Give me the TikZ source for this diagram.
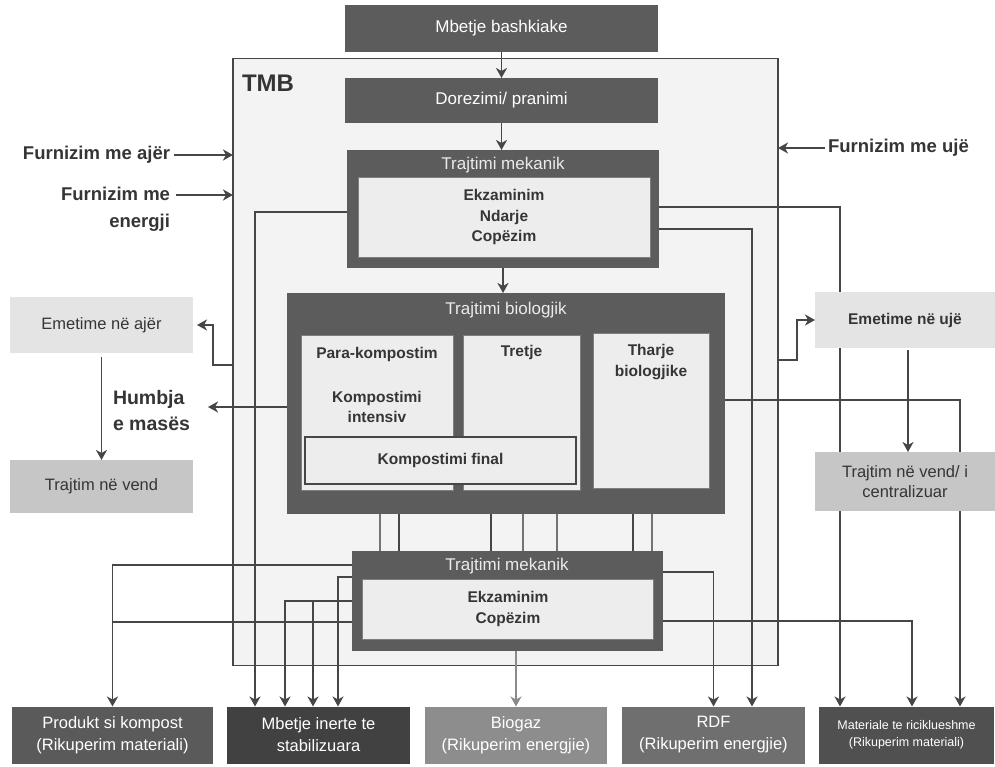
\documentclass[tikz,border=0pt]{standalone}
\usepackage{fontspec}
\setmainfont{Liberation Sans}
\usetikzlibrary{arrows.meta}
\pgfdeclarelayer{frame}
\pgfdeclarelayer{lines}
\pgfsetlayers{frame,lines,main}
\definecolor{dkbox}{HTML}{5C5C5C}
\definecolor{lnc}{HTML}{464646}
\definecolor{frm}{HTML}{F3F3F3}
\definecolor{inb}{HTML}{EDEDED}
\definecolor{lgb}{HTML}{E4E4E4}
\definecolor{mgb}{HTML}{C6C6C6}
\definecolor{txd}{HTML}{353535}
\definecolor{pkc}{HTML}{5A5A5A}
\definecolor{mic}{HTML}{414141}
\definecolor{bgc}{HTML}{8D8D8D}
\definecolor{rdfc}{HTML}{6F6F6F}
\definecolor{mrc}{HTML}{505050}
\definecolor{bgl}{HTML}{8A8A8A}
\begin{document}
\begin{tikzpicture}[x=1pt,y=-1pt,
  every node/.style={font=\fontsize{17}{21}\selectfont},
  box/.style={inner sep=0pt, outer sep=0pt, align=center},
  dbox/.style={box, fill=dkbox, text=white},
  lbox/.style={box, fill=inb, draw=lnc!70, line width=0.6pt, text=txd, font=\bfseries\fontsize{15.5}{20.5}\selectfont},
  wtext/.style={box, text=white!92!black},
  btext/.style={box, text=txd, font=\bfseries\fontsize{15.5}{20.5}\selectfont},
  stext/.style={box, text=txd, font=\bfseries\fontsize{18.5}{27}\selectfont},
  sidebox/.style={box, text=txd, font=\fontsize{16.5}{21}\selectfont},
  botbox/.style={box, text=white, minimum height=57pt, font=\fontsize{16.5}{22}\selectfont},
  conn/.style={draw=lnc, line width=1.8pt},
  arr/.style={conn, -{Stealth[length=10pt,width=11pt,inset=3pt]}},
  arrl/.style={draw=bgl, line width=1.5pt, -{Stealth[length=10pt,width=11pt,inset=3pt]}},
  bthick/.style={draw=lnc, line width=2pt},
  bthin/.style={draw=lnc!75, line width=1.2pt},
]
\useasboundingbox (0,0) rectangle (995,767);
\begin{pgfonlayer}{frame}
\fill[white] (0,0) rectangle (995,767);
\node[box, draw=lnc, line width=1.3pt, fill=frm, minimum width=545pt, minimum height=607pt] (tmb) at (505.5,362) {};
\end{pgfonlayer}
\node[box, anchor=west, text=txd, font=\bfseries\fontsize{24}{26}\selectfont] (tmbl) at (242,83) {TMB};

% top chain
\node[dbox, minimum width=313pt, minimum height=47pt] (mb) at (501.5,28.5) {Mbetje bashkiake};
\node[dbox, minimum width=313pt, minimum height=45pt] (dor) at (501.5,100.5) {Dorezimi/ pranimi};

% mechanical treatment 1
\node[dbox, minimum width=312pt, minimum height=118pt] (m1) at (503,209) {};
\node[wtext] (m1t) at (503,165) {Trajtimi mekanik};
\node[lbox, minimum width=292pt, minimum height=80pt] (m1i) at (504,217) {Ekzaminim\\Ndarje\\Copëzim};

% biological treatment
\node[dbox, minimum width=438pt, minimum height=221pt] (bio) at (506,403.5) {};
\node[wtext] (biot) at (506,310) {Trajtimi biologjik};
\node[lbox, minimum width=152pt, minimum height=155pt] (para) at (377,412.5) {};
\node[btext] (parat) at (377,354) {Para-kompostim};
\node[btext] (kit) at (377,407) {Kompostimi\\intensiv};
\node[lbox, minimum width=117pt, minimum height=155pt] (tre) at (521.5,412.5) {};
\node[btext] (tret) at (521.5,352) {Tretje};
\node[lbox, draw=lnc, line width=1.4pt, minimum width=271pt, minimum height=47pt] (fin) at (440.5,460.5) {Kompostimi final};
\node[lbox, minimum width=116pt, minimum height=155pt] (tha) at (651,410.5) {};
\node[btext] (thai) at (651,362) {Tharje\\biologjike};

% mechanical treatment 2
\node[dbox, minimum width=311pt, minimum height=100pt] (m2) at (507,601) {};
\node[wtext] (m2t) at (507,566) {Trajtimi mekanik};
\node[lbox, minimum width=291pt, minimum height=60pt] (m2i) at (508,609) {Ekzaminim\\Copëzim};

% left side
\node[stext, anchor=east] (fa) at (170,155) {Furnizim me ajër};
\node[stext, anchor=east, align=right] (fe) at (170,209) {Furnizim me\\energji};
\coordinate (fein) at (176,195);
\node[sidebox, fill=lgb, minimum width=183pt, minimum height=56pt] (eaj) at (101.5,325) {Emetime në ajër};
\node[sidebox, fill=mgb, minimum width=183pt, minimum height=53pt] (tv) at (101.5,486.5) {Trajtim në vend};
\node[stext, anchor=west, align=left, font=\bfseries\fontsize{19.5}{26}\selectfont] (hm) at (113,411) {Humbja\\e masës};

% right side
\node[stext, anchor=west] (fu) at (828,148) {Furnizim me ujë};
\node[sidebox, fill=lgb, minimum width=180pt, minimum height=56pt, font=\bfseries\fontsize{15.5}{20}\selectfont] (euj) at (905,320) {Emetime në ujë};
\node[sidebox, fill=mgb, minimum width=180pt, minimum height=59pt, font=\fontsize{16.5}{20}\selectfont] (tc) at (905,481.5) {Trajtim në vend/ i\\centralizuar};

% bottom outputs
\node[botbox, fill=pkc, minimum width=201pt] (pk) at (112.5,735) {Produkt si kompost\\(Rikuperim materiali)};
\node[botbox, fill=mic, minimum width=183pt] (mi) at (318.5,735) {Mbetje inerte te\\stabilizuara};
\node[botbox, fill=bgc, minimum width=182pt] (bg) at (516,735) {Biogaz\\(Rikuperim energjie)};
\node[botbox, fill=rdfc, minimum width=183pt] (rdf) at (713.5,735) {RDF\\(Rikuperim energjie)};
\node[botbox, fill=mrc, minimum width=175pt, font=\fontsize{12.5}{17}\selectfont] (mr) at (906.5,735) {Materiale te riciklueshme\\(Rikuperim materiali)};

\begin{pgfonlayer}{lines}
% main chain
\draw[arr] (mb.south) -- (dor.north);
\draw[arr] (dor.south) -- (dor.south |- m1.north);
\draw[arr] (m1.south) -- (m1.south |- bio.north);
% supplies
\draw[arr] ([xshift=4pt]fa.east) -- (fa.east -| tmb.west);
\draw[arr] (fein) -- (fein -| tmb.west);
\draw[arr] ([xshift=-3pt]fu.west) -- (fu.west -| tmb.east);
% emissions
\draw[arr] ([yshift=-3pt]tmb.west) -- ++(-20,0) |- ([xshift=4pt]eaj.east);
\draw[arr] ([yshift=-3.5pt]bio.west) -- ++(-79,0);
\draw[arr] ([yshift=-4pt]eaj.south) -- (tv.north);
\draw[arr] ([yshift=2pt]tmb.east) -- ++(19,0) |- (euj.west);
\draw[arr] ([xshift=3pt,yshift=-2pt]euj.south) -- ([xshift=3pt]tc.north);
% from mechanical treatment 1
\draw[arr] ([yshift=-3pt]m1.west) -| ([xshift=-63.5pt]mi.north);
\draw[arr] ([yshift=2pt]m1.east) -| ([xshift=-66.5pt]mr.north);
\draw[arr] ([yshift=-20pt]m1.east) -| ([xshift=38.5pt]rdf.north);
% from biological treatment
\draw[arr] ([yshift=3.5pt]bio.east) -| ([xshift=53.5pt]mr.north);
\foreach \dx/\st in {-126/bthin,-107/bthick,-15/bthick,17/bthin,51/bthin,127/bthick,146/bthin}{
  \path ([xshift=\dx pt]bio.south) coordinate (bp);
  \draw[\st] (bp) -- (bp |- m2.north);
}
% from mechanical treatment 2
\draw[arr] ([yshift=36pt]m2.west) -| (pk.north);
\coordinate (lw) at ([yshift=-21pt]m2.west);
\draw[conn] (lw) -- (lw -| pk.north);
\draw[arr] ([yshift=24pt]m2.west) -| ([xshift=19.5pt]mi.north);
\draw[arr] ([yshift=0pt]m2.west) -| ([xshift=-33.5pt]mi.north);
\coordinate (mw) at (m2.west);
\coordinate (mt) at ([xshift=-5.5pt]mi.north);
\draw[arr] (mw -| mt) -- (mt);
\draw[arr] ([yshift=29pt]m2.east) -| (rdf.north);
\draw[arr] ([yshift=-20pt]m2.east) -| ([xshift=5.5pt]mr.north);
\draw[arrl] (bg.north |- m2.south) -- (bg.north);
\end{pgfonlayer}
\end{tikzpicture}
\end{document}
